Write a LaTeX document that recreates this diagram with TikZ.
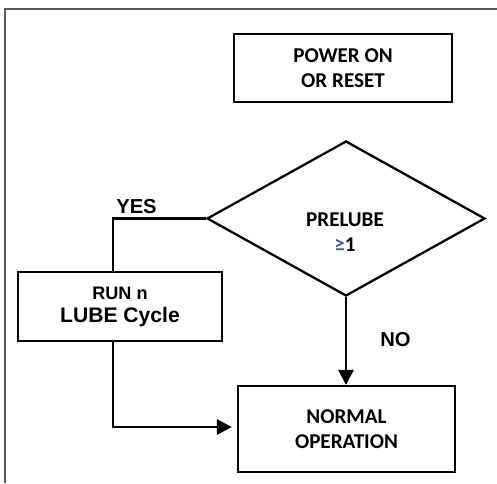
\documentclass[tikz,border=0pt]{standalone}
\usepackage{fontspec}
\setmainfont{Carlito}
\newfontfamily\arialfont{Liberation Sans}
\usetikzlibrary{shapes.geometric}
\usetikzlibrary{arrows.meta}

\definecolor{geqgray}{RGB}{80,95,130}

\tikzset{
  box/.style = {draw, line width = 1.3pt, align = center, inner sep = 0pt,
    font = \bfseries\fontsize{12}{14.2}\selectfont},
  flowline/.style = {line width = 1.3pt},
  flowarrow/.style = {line width = 1.6pt, -{Triangle[length = 0.3cm, width = 0.3cm]}},
  answer/.style = {font = \arialfont\bfseries\fontsize{11.5}{13}\selectfont, inner sep = 0pt}
}

\begin{document}
\begin{tikzpicture}
  \useasboundingbox (0, 0) rectangle (9.94, 9.66);

  \coordinate (FL) at (0.1, 0);
  \coordinate (FT) at (0.1, 9.48);
  \coordinate (FR) at (9.94, 9.48);
  \draw[black!65, line width = 0.9pt] (FL) -- (FT) -- (FR);

  \node[box, minimum width = 4.36cm, minimum height = 1.36cm] (power) at (6.86, 8.30)
    {POWER ON\\OR RESET};

  \node[draw, diamond, line width = 1.3pt, inner sep = 0pt,
    minimum width = 5.56cm, minimum height = 3.10cm] (prelube) at (6.92, 5.29) {};
  \node[align = center, inner sep = 0pt, font = \bfseries\fontsize{12}{14.2}\selectfont]
    (prelubetext) at (6.90, 5.02) {PRELUBE\\{\color{geqgray}≥}1};

  \node[box, minimum width = 4.08cm, minimum height = 1.38cm,
    font = \arialfont\bfseries\fontsize{12}{13.1}\selectfont] (run) at (2.40, 3.53)
    {{\fontsize{10.3}{13.1}\selectfont RUN n}\\LUBE Cycle};

  \node[box, minimum width = 4.34cm, minimum height = 1.72cm] (normal) at (6.93, 1.08)
    {NORMAL\\OPERATION};

  \node[answer] (yes) at (2.73, 5.52) {YES};
  \node[answer] (no) at (7.91, 2.87) {NO};

  \draw[flowline] (prelube.west) -| ([xshift = -0.14cm]run.north);
  \draw[flowarrow, shorten > = 0.1cm] ([xshift = -0.14cm]run.south)
    |- ([yshift = 0.04cm]normal.west);
  \draw[flowarrow] (prelube.south) -- (prelube.south |- normal.north);
\end{tikzpicture}
\end{document}
